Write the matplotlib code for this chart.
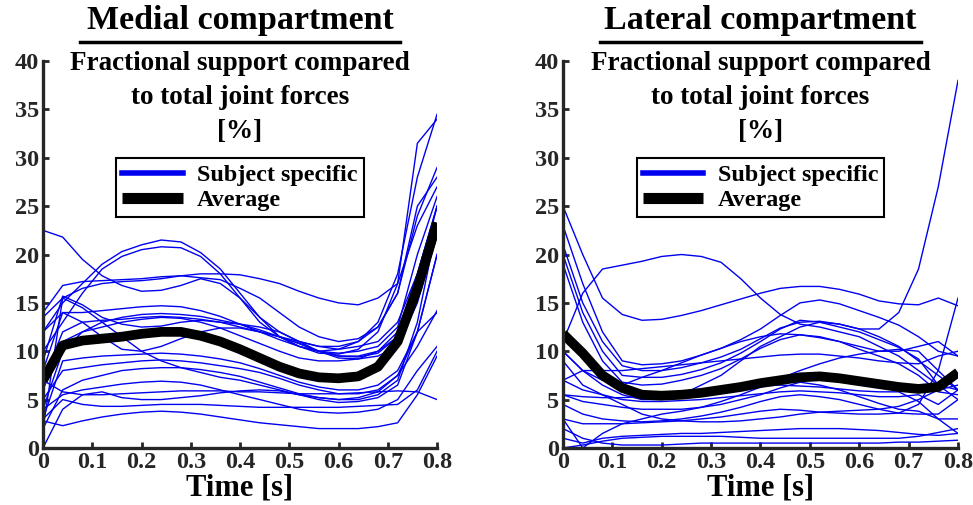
import matplotlib
matplotlib.use("Agg")
import matplotlib.pyplot as plt
import numpy as np

plt.rcParams['font.family'] = ['Liberation Serif', 'DejaVu Serif']
plt.rcParams['font.weight'] = 'bold'

time = np.round(np.arange(0, 0.81, 0.04), 2)

# medial compartment, one row per subject [%]
medial = [
    [22.5, 21.8, 19.5, 17.8, 16.8, 16.2, 16.3, 16.8, 17.5, 17.0, 15.5, 13.5, 12.0, 11.0, 10.5, 10.5, 11.0, 12.5, 16.0, 24.0, 29.0],
    [12.0, 15.0, 17.0, 19.0, 20.3, 21.0, 21.5, 21.3, 20.2, 18.5, 16.0, 13.5, 11.5, 10.5, 10.0, 10.2, 11.0, 13.0, 18.0, 28.0, 34.5],
    [10.0, 13.0, 16.0, 18.5, 19.8, 20.5, 20.8, 20.7, 19.8, 18.0, 15.5, 13.0, 11.5, 10.5, 9.8, 9.7, 10.2, 12.0, 17.0, 31.5, 34.0],
    [14.0, 16.8, 17.2, 17.3, 17.4, 17.5, 17.7, 17.8, 17.6, 17.4, 16.5, 15.5, 14.0, 12.5, 11.5, 11.0, 11.3, 12.5, 16.0, 25.0, 28.0],
    [13.5, 15.5, 16.5, 17.0, 17.2, 17.3, 17.5, 17.8, 18.0, 18.0, 17.9, 17.5, 17.0, 16.2, 15.5, 15.0, 14.8, 15.5, 17.0, 23.0, 27.0],
    [9.0, 15.7, 14.8, 13.5, 12.8, 12.5, 12.6, 13.0, 13.2, 13.0, 12.5, 12.0, 11.5, 11.0, 10.5, 10.2, 10.5, 11.0, 13.0, 18.0, 25.0],
    [8.0, 14.0, 14.0, 14.2, 14.4, 14.6, 14.7, 14.6, 14.2, 13.6, 12.8, 12.0, 11.2, 10.5, 10.0, 9.8, 10.0, 10.5, 12.5, 20.0, 26.0],
    [4.0, 10.0, 12.0, 13.0, 13.5, 13.8, 13.9, 13.8, 13.6, 13.2, 12.8, 12.2, 11.5, 10.8, 10.0, 9.5, 9.4, 9.8, 11.5, 17.0, 25.0],
    [12.0, 14.0, 13.0, 11.5, 10.2, 10.0, 10.5, 11.3, 12.0, 12.4, 12.4, 12.0, 11.5, 10.8, 10.0, 9.3, 9.2, 9.5, 10.5, 15.0, 22.0],
    [6.0, 11.0, 12.0, 12.5, 13.0, 13.3, 13.5, 13.4, 13.0, 12.4, 11.6, 10.8, 10.0, 9.3, 9.0, 9.0, 9.2, 10.0, 12.0, 18.0, 25.0],
    [3.0, 9.0, 9.3, 9.5, 9.6, 9.7, 9.8, 9.7, 9.5, 9.2, 8.8, 8.2, 7.5, 6.8, 6.3, 6.0, 6.0, 6.5, 8.0, 12.0, 20.0],
    [5.0, 8.0, 8.3, 8.6, 8.8, 9.0, 9.1, 9.0, 8.8, 8.5, 8.2, 7.8, 7.2, 6.5, 6.0, 5.6, 5.6, 6.0, 7.5, 10.5, 14.2],
    [2.0, 6.0, 7.0, 7.5, 8.0, 8.2, 8.3, 8.3, 8.1, 7.8, 7.4, 6.8, 6.2, 5.6, 5.2, 5.0, 5.2, 5.8, 7.5, 12.0, 14.0],
    [4.0, 5.5, 6.0, 6.3, 6.6, 6.8, 6.9, 6.8, 6.5, 6.0, 5.5, 5.0, 4.5, 4.0, 3.7, 3.6, 3.7, 4.0, 5.0, 8.0, 10.5],
    [7.0, 5.8, 5.5, 5.5, 5.6, 5.7, 5.8, 5.9, 5.9, 5.9, 5.8, 5.8, 5.7, 5.6, 5.6, 5.6, 5.7, 5.8, 5.9, 5.8, 5.0],
    [3.0, 5.0, 4.5, 4.3, 4.3, 4.4, 4.5, 4.5, 4.5, 4.4, 4.3, 4.2, 4.2, 4.2, 4.2, 4.2, 4.3, 4.4, 4.5, 6.0, 10.0],
    [2.8, 2.3, 2.8, 3.2, 3.5, 3.7, 3.8, 3.7, 3.5, 3.2, 2.9, 2.6, 2.4, 2.2, 2.0, 2.0, 2.0, 2.2, 2.6, 5.5, 9.5],
    [0.0, 4.0, 5.5, 5.8, 5.2, 5.0, 5.0, 5.2, 5.4, 5.7, 5.9, 6.0, 5.9, 5.5, 5.0, 4.7, 4.8, 5.2, 6.5, 12.0, 20.0],
    [2.0, 15.5, 14.5, 13.0, 11.5, 10.0, 9.0, 8.3, 7.8, 7.3, 7.0, 6.5, 6.0, 5.5, 5.2, 5.0, 5.0, 5.5, 7.0, 13.0, 23.0],
    [7.0, 12.0, 13.0, 13.2, 13.3, 13.5, 13.6, 13.5, 13.3, 13.0, 12.8, 12.5, 12.0, 11.0, 10.0, 9.5, 9.5, 10.0, 11.5, 16.0, 22.0],
]
medial_avg = [7.0, 10.6, 11.1, 11.3, 11.5, 11.8, 12.0, 12.0, 11.6, 11.0, 10.2, 9.3, 8.4, 7.7, 7.3, 7.2, 7.4, 8.4, 11.0, 16.5, 23.3]

# lateral compartment, one row per subject [%]
lateral = [
    [10.0, 8.0, 6.5, 5.5, 5.0, 5.0, 5.5, 6.5, 7.5, 9.0, 10.5, 11.5, 12.5, 13.0, 12.8, 12.3, 12.3, 14.0, 18.5, 27.0, 38.0],
    [11.0, 16.0, 18.5, 18.9, 19.3, 19.8, 20.0, 19.8, 19.2, 17.5, 15.5, 13.8, 12.8, 12.5, 12.0, 11.5, 10.5, 9.5, 8.0, 6.5, 6.0],
    [25.0, 20.0, 15.5, 13.8, 13.2, 13.3, 13.7, 14.2, 14.8, 15.4, 16.0, 16.5, 16.7, 16.7, 16.4, 15.9, 15.2, 14.9, 14.8, 15.5, 14.7],
    [23.0, 17.0, 12.0, 9.0, 8.6, 8.7, 9.0, 9.6, 10.3, 11.2, 12.3, 13.7, 15.0, 15.3, 14.9, 14.2, 13.5, 12.7, 11.5, 10.0, 9.5],
    [21.0, 15.0, 11.0, 8.5, 8.0, 8.0, 8.3, 8.8, 9.4, 10.2, 11.3, 12.4, 13.0, 13.1, 12.8, 12.3, 11.5, 10.5, 9.0, 7.5, 6.0],
    [20.0, 14.0, 10.0, 7.5, 7.3, 7.3, 7.6, 8.1, 8.8, 9.8, 11.0, 12.3, 13.2, 13.0, 12.5, 12.0, 11.2, 10.4, 9.2, 6.5, 5.0],
    [19.0, 13.0, 9.0, 6.8, 6.5, 6.6, 7.0, 7.5, 8.2, 9.2, 10.3, 11.2, 11.7, 11.5, 11.0, 10.2, 9.5, 8.7, 7.5, 5.8, 5.5],
    [10.0, 8.0, 7.0, 6.5, 7.3, 8.0, 8.8, 9.6, 10.3, 11.0, 11.5, 11.8, 11.7, 11.4, 11.0, 10.5, 10.0, 10.0, 10.5, 11.0, 9.5],
    [7.0, 8.0, 8.0, 8.0, 8.2, 8.4, 8.6, 8.8, 9.0, 9.2, 9.4, 9.6, 9.7, 9.7, 9.5, 9.3, 9.0, 8.8, 8.7, 9.5, 10.0],
    [9.0, 6.5, 5.5, 5.0, 4.8, 4.8, 4.9, 5.0, 5.2, 5.4, 5.6, 5.8, 5.9, 5.8, 5.7, 5.5, 5.3, 5.3, 5.5, 4.5, 6.0],
    [5.5, 4.8, 4.5, 4.2, 4.0, 4.0, 4.0, 4.2, 4.5, 5.0, 5.5, 6.2, 6.8, 6.5, 6.0, 5.3, 4.6, 4.0, 3.8, 3.0, 3.0],
    [4.5, 3.5, 3.0, 2.8, 2.7, 2.8, 3.0, 3.3, 3.7, 4.2, 4.8, 5.3, 5.5, 5.3, 5.0, 4.5, 4.0, 3.6, 3.5, 3.5, 5.0],
    [3.0, 2.5, 2.5, 2.5, 2.6, 2.7, 2.8, 3.0, 3.2, 3.5, 3.8, 4.0, 3.9, 3.7, 3.6, 3.5, 3.5, 3.6, 4.5, 8.0, 15.5],
    [1.0, 0.5, 1.0, 1.2, 1.3, 1.4, 1.5, 1.5, 1.6, 1.7, 1.8, 1.9, 2.0, 2.0, 2.0, 1.9, 1.8, 1.6, 1.4, 1.3, 1.5],
    [0.0, 0.3, 0.7, 1.0, 1.1, 1.2, 1.2, 1.2, 1.2, 1.1, 1.0, 1.0, 1.0, 1.0, 1.0, 1.0, 1.0, 1.0, 1.2, 1.6, 2.0],
    [2.0, 1.0, 0.5, 0.3, 0.3, 0.3, 0.4, 0.5, 0.5, 0.5, 0.5, 0.5, 0.5, 0.5, 0.5, 0.5, 0.5, 0.6, 0.6, 0.7, 0.8],
    [3.0, 0.0, 1.5, 2.5, 3.0, 3.5, 3.8, 4.2, 4.8, 5.5, 6.3, 7.2, 8.0, 8.7, 9.3, 9.7, 10.0, 10.2, 10.0, 8.0, 6.0],
    [5.5, 5.3, 5.2, 5.2, 5.3, 5.5, 5.7, 5.9, 6.1, 6.3, 6.4, 6.5, 6.4, 6.3, 6.1, 5.9, 5.8, 5.8, 4.8, 3.0, 1.5],
    [7.0, 6.0, 5.5, 4.5, 3.5, 3.0, 2.8, 2.7, 2.7, 2.8, 3.0, 3.2, 3.5, 3.7, 3.8, 3.9, 4.0, 4.3, 5.0, 6.0, 6.5],
]
lateral_avg = [11.8, 9.8, 7.5, 6.2, 5.5, 5.4, 5.5, 5.7, 6.0, 6.3, 6.7, 7.0, 7.3, 7.4, 7.2, 6.9, 6.6, 6.3, 6.1, 6.3, 7.8]

titles = ["Medial compartment", "Lateral compartment"]
xticks = [0, 0.1, 0.2, 0.3, 0.4, 0.5, 0.6, 0.7, 0.8]
xtick_labels = ["0", "0.1", "0.2", "0.3", "0.4", "0.5", "0.6", "0.7", "0.8"]
yticks = [0, 5, 10, 15, 20, 25, 30, 35, 40]
ylabel_lines = ["Fractional support compared", "to total joint forces", "[%]"]

fig = plt.figure(figsize=(9.73, 5.05), dpi=100)
axes = [fig.add_axes([0.0442, 0.113, 0.405, 0.766]),
        fig.add_axes([0.5786, 0.113, 0.406, 0.766])]

for ax, title, subj, avg in zip(axes, titles, [medial, lateral], [medial_avg, lateral_avg]):
    for i, row in enumerate(subj):
        ax.plot(time, row, color="#0000f0", lw=1.0,
                label="Subject specific" if i == 0 else None)
    ax.plot(time, avg, color="black", lw=7, solid_capstyle="butt", label="Average")

    ax.set_xlim(0, 0.8)
    ax.set_ylim(0, 40)
    ax.set_xticks(xticks)
    ax.set_xticklabels(xtick_labels)
    ax.set_yticks(yticks)
    ax.tick_params(direction="in", length=4, width=2, labelsize=17.5,
                   colors="#262626", pad=3)
    for s in ["top", "right"]:
        ax.spines[s].set_visible(False)
    for s in ["left", "bottom"]:
        ax.spines[s].set_linewidth(2.4)
        ax.spines[s].set_color("#262626")
    ax.set_xlabel("Time [s]", fontsize=22, fontweight="bold", labelpad=0)

    ax.text(0.5, 1.082, title, transform=ax.transAxes, ha="center", va="baseline",
            fontsize=24.5, fontweight="bold")
    ax.plot([0.094, 0.906], [1.049, 1.049], transform=ax.transAxes,
            color="black", lw=2.5, clip_on=False)
    for j, line in enumerate(ylabel_lines):
        ax.text(0.5, 0.994 - j * 0.088, line, transform=ax.transAxes,
                ha="center", va="center", fontsize=19.5, fontweight="bold")

    leg = ax.legend(loc="upper center", bbox_to_anchor=(0.5, 0.749), fontsize=17.4,
                    fancybox=False, framealpha=1, edgecolor="black",
                    handlelength=2.5, borderpad=0.25, labelspacing=0.12,
                    handletextpad=0.6, borderaxespad=0)
    leg.get_frame().set_linewidth(1.5)
    for h in leg.get_lines():
        h.set_linewidth(4 if h.get_color() != "black" else 8)

fig.savefig("out.png", dpi=100)
